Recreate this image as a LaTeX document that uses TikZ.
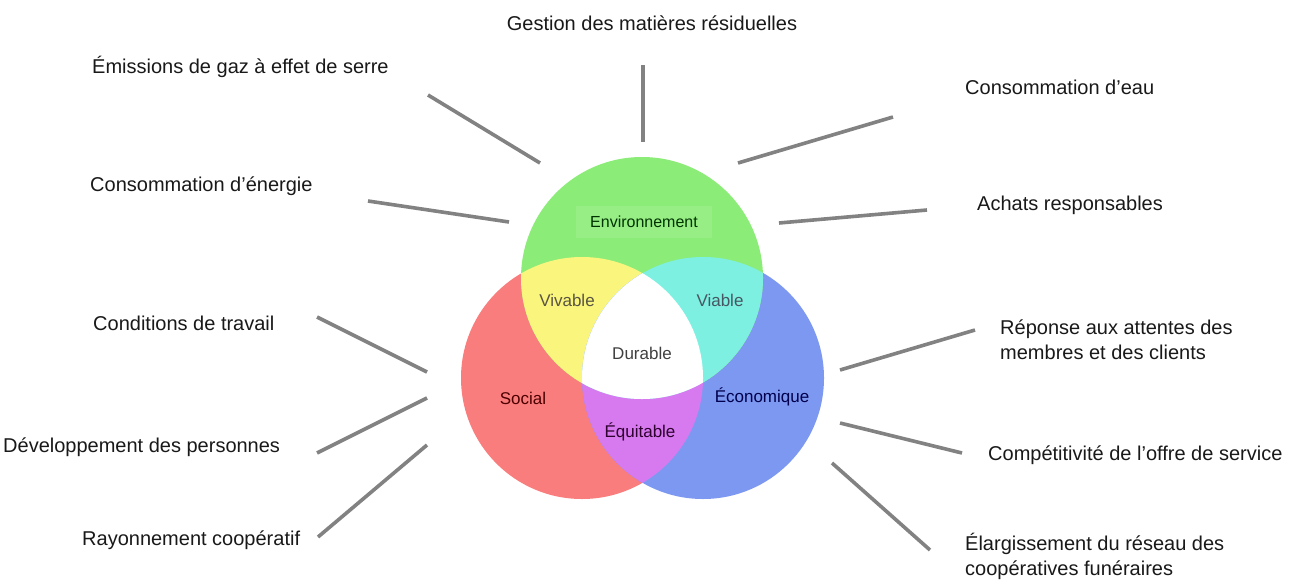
\documentclass[tikz,border=0pt]{standalone}
\usepackage{fontspec}
\setmainfont{Liberation Sans}
\usepackage{xcolor}
\usepackage{tikz}
\usetikzlibrary{positioning, calc}

\definecolor{venngreen}{RGB}{140,236,120}
\definecolor{vennred}{RGB}{250,125,125}
\definecolor{vennblue}{RGB}{125,152,240}
\definecolor{vennyellow}{RGB}{250,245,125}
\definecolor{venncyan}{RGB}{125,240,225}
\definecolor{vennmagenta}{RGB}{215,122,240}
\definecolor{spokegray}{RGB}{130,130,130}

\begin{document}
\begin{tikzpicture}[x=1pt, y=-1pt,
    outer/.style={font=\fontsize{20}{25}\selectfont, text=black!90, inner sep=0pt, align=left},
    inlabel/.style={font=\fontsize{17}{20}\selectfont, inner sep=0pt},
    spoke/.style={draw=spokegray, line width=3.6pt}]
    \useasboundingbox[fill=white] (0,0) rectangle (1289,581);

    % Circles
    \coordinate (env) at (642,278);
    \coordinate (soc) at (582,378);
    \coordinate (eco) at (703,378);
    \fill[vennred] (soc) circle[radius=121pt];
    \fill[vennblue] (eco) circle[radius=121pt];
    \fill[venngreen] (env) circle[radius=121pt];

    % Overlaps
    \begin{scope}
      \clip (soc) circle[radius=121pt];
      \fill[vennyellow] (env) circle[radius=121pt];
      \fill[vennmagenta] (eco) circle[radius=121pt];
    \end{scope}
    \begin{scope}
      \clip (env) circle[radius=121pt];
      \fill[venncyan] (eco) circle[radius=121pt];
    \end{scope}
    \begin{scope}
      \clip (soc) circle[radius=121pt];
      \clip (env) circle[radius=121pt];
      \fill[white] (eco) circle[radius=121pt];
    \end{scope}

    % Inner labels
    \node[inlabel, font=\fontsize{16}{19}\selectfont, fill=venngreen!90!white,
      minimum width=136pt, minimum height=32pt, text=black!80!green] (envlbl) at (644,222) {Environnement};
    \node[inlabel, text=black!75!yellow] (vivlbl) at (567,300) {Vivable};
    \node[inlabel, text=black!70!cyan] (vialbl) at (720,300) {Viable};
    \node[inlabel, text=black!75] (durlbl) at (642,353) {Durable};
    \node[inlabel, text=black!70!red] (soclbl) at (523,398) {Social};
    \node[inlabel, text=black!70!blue] (ecolbl) at (762,397) {Économique};
    \node[inlabel, text=black!65!violet] (equlbl) at (640,432) {Équitable};

    % Environnement
    \node[outer] (ges) at (652,23) {Gestion des matières résiduelles};
    \node[outer, anchor=west] (emi) at (92,67) {Émissions de gaz à effet de serre};
    \node[outer, anchor=west] (ener) at (90,186) {Consommation d’énergie};
    \node[outer, anchor=west] (eau) at (965,87) {Consommation d’eau};
    \node[outer, anchor=west] (achat) at (977,205) {Achats responsables};

    % Social
    \node[outer, anchor=west] (cond) at (93,323) {Conditions de travail};
    \node[outer, anchor=west] (dev) at (3,447) {Développement des personnes};
    \node[outer, anchor=west] (ray) at (82,540) {Rayonnement coopératif};

    % Economique
    \node[outer, anchor=west] (rep) at (1000,340) {Réponse aux attentes des\\membres et des clients};
    \node[outer, anchor=west] (comp) at (988,455) {Compétitivité de l’offre de service};
    \node[outer, anchor=west] (elarg) at (965,556) {Élargissement du réseau des\\coopératives funéraires};

    % Spokes
    \coordinate (ges-a) at (643,65);   \coordinate (ges-b) at (643,142);
    \coordinate (emi-a) at (428,95);   \coordinate (emi-b) at (540,163);
    \coordinate (ener-a) at (368,201); \coordinate (ener-b) at (509,222);
    \coordinate (eau-a) at (893,117);  \coordinate (eau-b) at (738,163);
    \coordinate (achat-a) at (927,210); \coordinate (achat-b) at (779,223);
    \coordinate (cond-a) at (317,317); \coordinate (cond-b) at (427,372);
    \coordinate (dev-a) at (317,453);  \coordinate (dev-b) at (427,398);
    \coordinate (ray-a) at (318,537);  \coordinate (ray-b) at (427,445);
    \coordinate (rep-a) at (975,330);  \coordinate (rep-b) at (840,370);
    \coordinate (comp-a) at (962,453); \coordinate (comp-b) at (840,423);
    \coordinate (elarg-a) at (930,550); \coordinate (elarg-b) at (832,463);
    \foreach \s in {ges, emi, ener, eau, achat, cond, dev, ray, rep, comp, elarg}
      \draw[spoke] (\s-a) -- (\s-b);
\end{tikzpicture}
\end{document}
